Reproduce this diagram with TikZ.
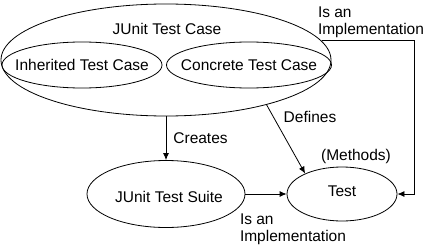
\documentclass[tikz,border=0pt]{standalone}
\usepackage{fontspec}
\setmainfont{Liberation Sans}
\usetikzlibrary{arrows.meta,shapes.geometric}

\tikzset{
 txt/.style={font=\fontsize{15.5}{17}\selectfont,inner sep=0pt},
 oval/.style={ellipse,draw,line width=0.8pt,inner sep=0pt,font=\fontsize{15.5}{17}\selectfont},
 link/.style={->,line width=0.8pt}
}

\begin{document}
\begin{tikzpicture}[x=1pt,y=-1pt,>={Latex[length=7pt,width=6pt]}]
 \useasboundingbox (0,0) rectangle (427,246);
 % test case and its two kinds
 \node[oval,minimum width=330pt,minimum height=112pt] (tcase) at (166,60) {};
 \node[txt] (tcasetitle) at (167,29) {JUnit Test Case};
 \node[oval,minimum width=160pt,minimum height=46pt] (inh) at (82,65) {\makebox[0pt]{Inherited Test Case}};
 \node[oval,minimum width=165pt,minimum height=46pt] (conc) at (249,65) {\makebox[0pt]{Concrete Test Case}};
 % suite and test
 \node[oval,minimum width=158pt,minimum height=67pt] (suite) at (166,194) {};
 \node[txt] (suitetext) at (169,197) {JUnit Test Suite};
 \node[oval,minimum width=110pt,minimum height=54pt] (test) at (342,194) {};
 \node[txt] (testtext) at (342,191) {Test};
 \node[txt] (methods) at (356,156) {(Methods)};
 \coordinate (bend) at (414,42);
 % relations
 \draw[link] (tcase.south) -- node[txt,right=7pt,pos=0.5] (creates) {Creates} (suite.north);
 \draw[link] (tcase.-24) -- (test.151);
 \node[txt] (defines) at (310,117) {Defines};
 \draw[link] (suite.east) -- (test.west);
 \node[txt,align=left] (implA) at (293,229) {Is an\\Implementation};
 \draw[link] (tcase.7) -- (tcase.7 -| bend) |- (test.east);
 \node[txt,align=left] (implB) at (371,22) {Is an\\Implementation};
\end{tikzpicture}
\end{document}
